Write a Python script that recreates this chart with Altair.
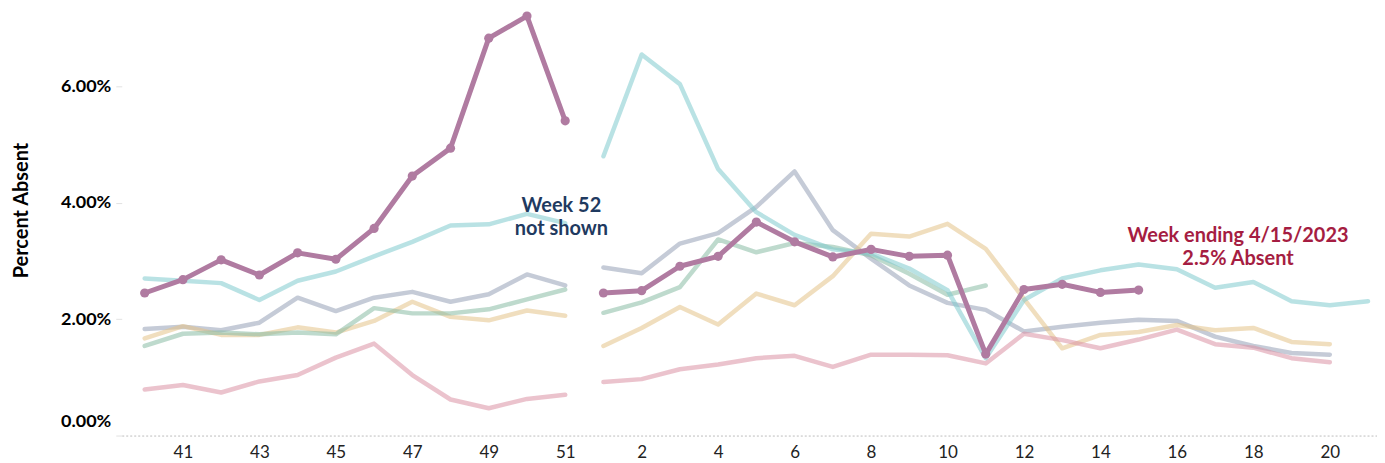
import altair as alt
import pandas as pd

# ---------------- data ----------------
LEFT_WEEKS = list(range(40, 52))      # weeks 40..51 (week 52 not shown)
RIGHT_WEEKS = list(range(1, 22))      # weeks 1..21

SEASONS = ["2017-18", "2018-19", "2019-20", "2020-21", "2021-22", "2022-23"]
COLORS = ["#96a0b6", "#e4c389", "#89bca4", "#db92a4", "#80cace", "#b07ba1"]

left_2017 = [1.83, 1.87, 1.81, 1.94, 2.37, 2.14, 2.37, 2.47, 2.30, 2.43, 2.77, 2.58]
right_2017 = [2.89, 2.79, 3.30, 3.48, 3.93, 4.54, 3.53, 3.04, 2.58, 2.28, 2.16, 1.79,
              1.87, 1.94, 1.99, 1.97, 1.70, 1.54, 1.42, 1.39]

left_2018 = [1.67, 1.88, 1.73, 1.73, 1.86, 1.77, 1.97, 2.30, 2.04, 1.98, 2.15, 2.06]
right_2018 = [1.54, 1.85, 2.21, 1.91, 2.44, 2.24, 2.74, 3.47, 3.42, 3.64, 3.21, 2.35,
              1.50, 1.73, 1.78, 1.90, 1.81, 1.85, 1.61, 1.57]

left_2019 = [1.54, 1.75, 1.77, 1.74, 1.77, 1.74, 2.19, 2.10, 2.10, 2.17, 2.34, 2.51]
right_2019 = [2.11, 2.29, 2.55, 3.37, 3.15, 3.31, 3.24, 3.10, 2.78, 2.42, 2.58]

left_2020 = [0.79, 0.87, 0.74, 0.93, 1.04, 1.34, 1.58, 1.04, 0.62, 0.47, 0.63, 0.70]
right_2020 = [0.92, 0.97, 1.14, 1.22, 1.33, 1.37, 1.18, 1.39, 1.39, 1.38, 1.24, 1.75,
              1.64, 1.50, 1.65, 1.82, 1.57, 1.51, 1.33, 1.26]

left_2021 = [2.70, 2.66, 2.62, 2.33, 2.66, 2.82, 3.08, 3.33, 3.61, 3.63, 3.81, 3.65]
right_2021 = [4.80, 6.55, 6.04, 4.58, 3.84, 3.45, 3.20, 3.13, 2.87, 2.50, 1.33, 2.33,
              2.70, 2.84, 2.94, 2.86, 2.54, 2.64, 2.31, 2.24, 2.31]

left_2022 = [2.45, 2.68, 3.02, 2.76, 3.14, 3.03, 3.56, 4.46, 4.94, 6.83, 7.21, 5.41]
right_2022 = [2.45, 2.49, 2.91, 3.08, 3.67, 3.33, 3.07, 3.20, 3.08, 3.10, 1.40, 2.51,
              2.60, 2.46, 2.50]

LEFT = [left_2017, left_2018, left_2019, left_2020, left_2021, left_2022]
RIGHT = [right_2017, right_2018, right_2019, right_2020, right_2021, right_2022]

ANN_TEXT = ["Week 52", "not shown", "Week ending 4/15/2023", "2.5% Absent"]
ANN_IDX = [10.9, 10.9, 28.6, 28.6]
ANN_PCT = [3.84, 3.44, 3.33, 2.93]
ANN_COLOR = ["#1f3a60", "#1f3a60", "#a51d42", "#a51d42"]

# ---------------- table ----------------
rows = []
for s, lv, rv in zip(SEASONS, LEFT, RIGHT):
    for i, (w, v) in enumerate(zip(LEFT_WEEKS, lv)):
        rows.append(dict(season=s, week=w, idx=i, pct=v / 100, seg=s + "-fall"))
    for j, (w, v) in enumerate(zip(RIGHT_WEEKS, rv)):
        rows.append(dict(season=s, week=w, idx=len(LEFT_WEEKS) + j, pct=v / 100,
                         seg=s + "-spring"))
df = pd.DataFrame(rows)
cur = df[df.season == SEASONS[-1]]
past = df[df.season != SEASONS[-1]]

ann = pd.DataFrame(dict(text=ANN_TEXT, idx=ANN_IDX, pct=[p / 100 for p in ANN_PCT],
                        color=ANN_COLOR))

FONT = "Lato"
n_left = len(LEFT_WEEKS)

x = alt.X(
    "idx:Q",
    scale=alt.Scale(domain=[-0.6, 32.235], nice=False, zero=False),
    axis=alt.Axis(
        title=None,
        values=list(range(1, 32, 2)),
        labelExpr=f"datum.value < {n_left} ? datum.value + {LEFT_WEEKS[0]} : datum.value - {n_left - 1}",
        ticks=False,
        grid=False,
        domain=True,
        domainDash=[2, 2],
        domainColor="#bdbdbd",
        domainWidth=1,
        labelFont=FONT,
        labelFontSize=17,
        labelColor="#222222",
        labelPadding=9,
    ),
)
y = alt.Y(
    "pct:Q",
    scale=alt.Scale(domain=[0, 0.0734], nice=False, zero=False),
    axis=alt.Axis(
        title="Percent Absent",
        values=[0, 0.02, 0.04, 0.06],
        format=".2%",
        grid=False,
        domain=False,
        ticks=True,
        tickColor="#e2e2e2",
        tickSize=6,
        labelFont=FONT,
        labelFontSize=18,
        labelFontWeight="bold",
        labelColor="#000000",
        labelPadding=5,
        labelFlush=True,
        labelFlushOffset=-5,
        titleFont=FONT,
        titleFontSize=20,
        titleFontWeight="bold",
        titleColor="#000000",
        titleX=-100,
        titleY=202,
        titleAngle=270,
        titleAlign="center",
        titleBaseline="middle",
    ),
)

color_scale = alt.Scale(domain=SEASONS, range=COLORS)

past_lines = alt.Chart(past).mark_line(strokeWidth=4.5, opacity=0.55, strokeCap="round",
                                       strokeJoin="round").encode(
    x=x, y=y,
    color=alt.Color("season:N", scale=color_scale, legend=None),
    detail="seg:N",
)

cur_line = alt.Chart(cur).mark_line(strokeWidth=5, strokeCap="round",
                                    strokeJoin="round").encode(
    x=x, y=y,
    color=alt.Color("season:N", scale=color_scale, legend=None),
    detail="seg:N",
)
cur_pts = alt.Chart(cur).mark_circle(size=85, opacity=1).encode(
    x=x, y=y,
    color=alt.Color("season:N", scale=color_scale, legend=None),
)

labels = alt.Chart(ann).mark_text(font=FONT, fontSize=20, fontWeight="bold",
                                  align="center", baseline="alphabetic").encode(
    x=x, y=y,
    text="text:N",
    color=alt.Color("color:N", scale=None),
)

chart = alt.layer(past_lines, cur_line, cur_pts, labels).properties(
    width=1258,
    height=428,
    autosize=alt.AutoSizeParams(type="none"),
    padding={"left": 114, "top": 0, "right": 0, "bottom": 27},
    background="white",
).configure_view(stroke=None)

chart.save("out.html", embed_options={"renderer": "svg", "actions": False})
